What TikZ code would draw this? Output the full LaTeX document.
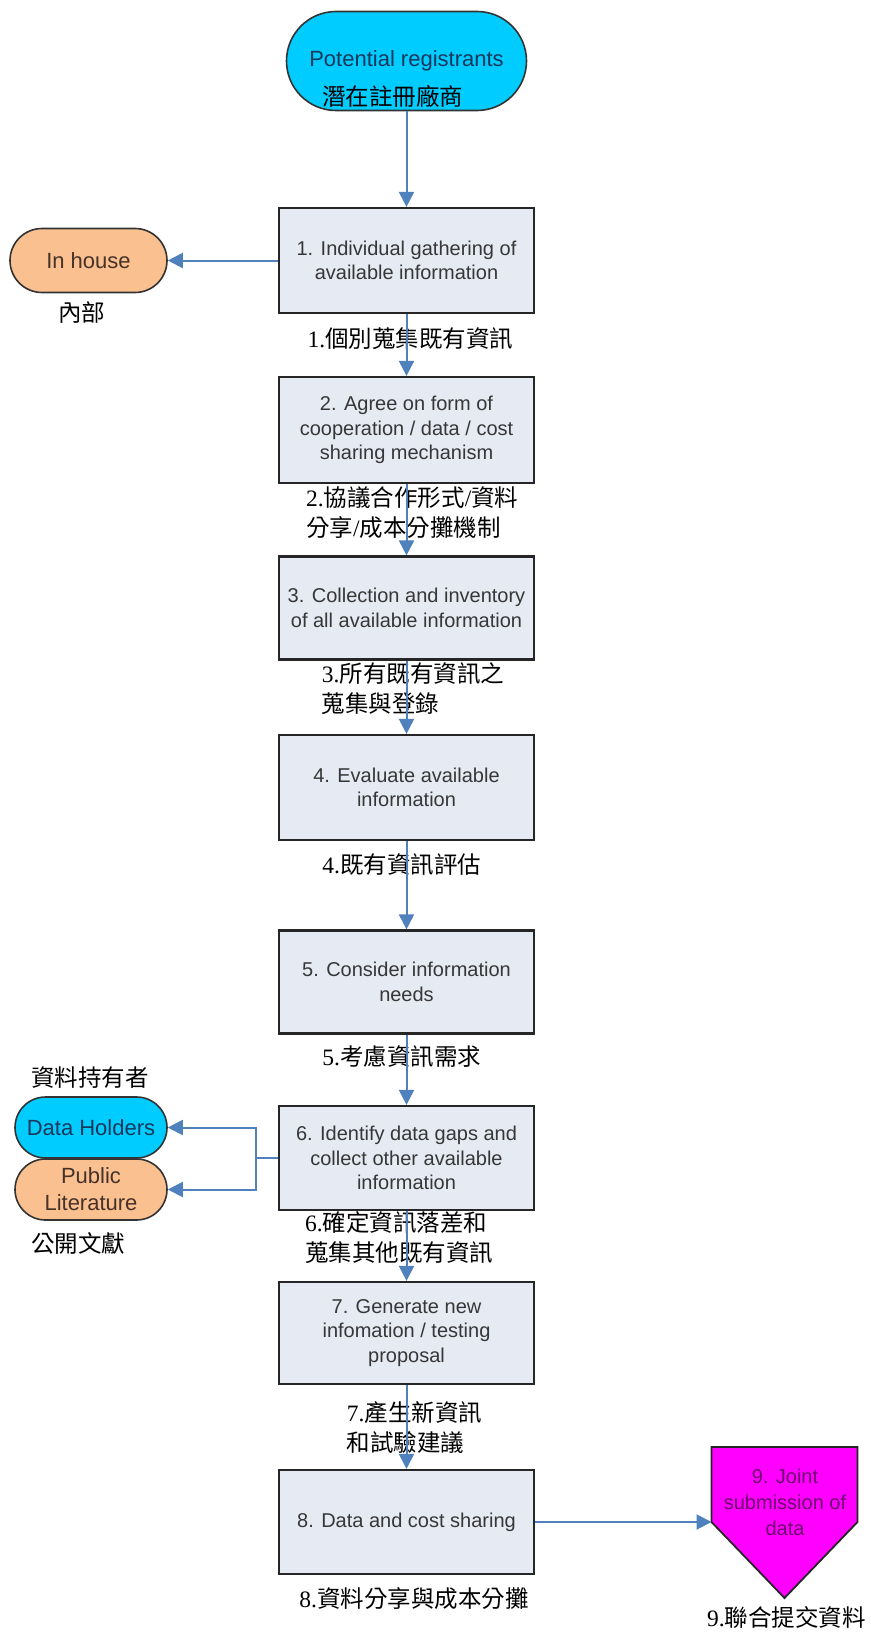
\documentclass[tikz,border=0pt]{standalone}
\usepackage{fontspec}
\setmainfont{Liberation Serif}
\setsansfont{Liberation Sans}
\newfontfamily\cjk{Noto Sans CJK TC}
\usetikzlibrary{arrows.meta}
\definecolor{cyanfill}{RGB}{0,204,255}
\definecolor{orangefill}{RGB}{250,192,144}
\definecolor{boxfill}{RGB}{230,234,242}
\definecolor{arrowblue}{RGB}{79,129,189}
\definecolor{magentafill}{RGB}{255,0,255}
\definecolor{boxtext}{RGB}{55,55,55}
\definecolor{cyantext}{RGB}{25,55,90}
\definecolor{orangetext}{RGB}{70,50,40}
\definecolor{magtext}{RGB}{110,0,110}
\begin{document}
\begin{tikzpicture}[x=1pt,y=-1pt,
  stepbox/.style={draw=black!85, line width=2.2pt, fill=boxfill, minimum width=255pt,
    inner sep=0pt, align=center, font=\sffamily\fontsize{20}{24.5}\selectfont, text=boxtext},
  pill/.style={draw=black!80, line width=1.6pt, inner sep=0pt, align=center,
    font=\sffamily\fontsize{22}{27}\selectfont},
  zh/.style={inner sep=0pt, font=\fontsize{23.5}{30}\selectfont, text=black},
  flow/.style={draw=arrowblue, line width=2pt, -{Triangle[length=15pt,width=15pt]}}
]
\useasboundingbox (0,0) rectangle (870,1635);
\fill[white] (0,0) rectangle (870,1635);

% start pill
\node[pill, fill=cyanfill, text=cyantext, minimum width=240pt, minimum height=99pt,
  rounded corners=49.5pt] (pr) at (406.5,61) {Potential registrants};
\node[zh] (przh) at (392.5,96) {\cjk 潛在註冊廠商};

% step boxes
\node[stepbox, minimum height=105pt] (b1) at (406.5,260.5) {1. Individual gathering of\\available information};
\node[stepbox, minimum height=106pt] (b2) at (406.5,430) {2. Agree on form of\\cooperation / data / cost\\sharing mechanism};
\node[stepbox, minimum height=103pt] (b3) at (406.5,608) {3. Collection and inventory\\of all available information};
\node[stepbox, minimum height=105pt] (b4) at (406.5,787.5) {4. Evaluate available\\information};
\node[stepbox, minimum height=103pt] (b5) at (406.5,982) {5. Consider information\\needs};
\node[stepbox, minimum height=104pt] (b6) at (406.5,1158) {6. Identify data gaps and\\collect other available\\information};
\node[stepbox, minimum height=102pt] (b7) at (406.5,1333) {7. Generate new\\infomation / testing\\proposal};
\node[stepbox, minimum height=104pt] (b8) at (406.5,1522) {8. Data and cost sharing};

% side pills
\node[pill, fill=orangefill, text=orangetext, minimum width=157pt, minimum height=64pt,
  rounded corners=32pt] (ih) at (88.5,260.5) {In house};
\node[zh] (ihzh) at (81.5,313) {\cjk 內部};
\node[pill, fill=cyanfill, text=cyantext, minimum width=152pt, minimum height=61pt,
  rounded corners=30.5pt] (dh) at (91,1127.5) {Data Holders};
\node[pill, fill=orangefill, text=orangetext, minimum width=152pt, minimum height=61pt,
  rounded corners=30.5pt] (pl) at (91,1189.5) {Public\\Literature};
\node[zh] (dhzh) at (90,1078) {\cjk 資料持有者};
\node[zh] (plzh) at (78,1243) {\cjk 公開文獻};

% pentagon
\coordinate (p9a) at (711.5,1447);
\coordinate (p9b) at (857.5,1447);
\coordinate (p9c) at (857.5,1522);
\coordinate (p9d) at (784.5,1598);
\coordinate (p9e) at (711.5,1522);
\draw[fill=magentafill, draw=black!85, line width=1.8pt, line join=miter]
  (p9a) -- (p9b) -- (p9c) -- (p9d) -- (p9e) -- cycle;
\node[inner sep=0pt, align=center, font=\sffamily\fontsize{20}{25.8}\selectfont, text=magtext]
  (t9) at (785,1502.5) {9. Joint\\submission of\\data};

% chinese labels
\node[zh] (z1) at (410.5,339) {1.{\cjk 個別蒐集既有資訊}};
\node[zh, anchor=west, align=left] (z2) at (306,512.5) {2.{\cjk 協議合作形式}/{\cjk 資料}\\{\cjk 分享}/{\cjk 成本分攤機制}};
\node[zh, anchor=west, align=left] (z3) at (321.7,688.5) {3.{\cjk 所有既有資訊之}\\{\cjk 蒐集與登錄}};
\node[zh] (z4) at (401.7,865) {4.{\cjk 既有資訊評估}};
\node[zh] (z5) at (401.7,1056.7) {5.{\cjk 考慮資訊需求}};
\node[zh, anchor=west, align=left] (z6) at (305,1238) {6.{\cjk 確定資訊落差和}\\{\cjk 蒐集其他既有資訊}};
\node[zh, anchor=west, align=left] (z7) at (346.7,1428) {7.{\cjk 產生新資訊}\\{\cjk 和試驗建議}};
\node[zh] (z8) at (414,1599) {8.{\cjk 資料分享與成本分攤}};
\node[zh] (z9) at (786.5,1618) {9.{\cjk 聯合提交資料}};

% connectors
\draw[flow] (pr.south) -- (b1.north);
\draw[flow] (b1.south) -- (b2.north);
\draw[flow] (b2.south) -- (b3.north);
\draw[flow] (b3.south) -- (b4.north);
\draw[flow] (b4.south) -- (b5.north);
\draw[flow] (b5.south) -- (b6.north);
\draw[flow] (b6.south) -- (b7.north);
\draw[flow] (b7.south) -- (b8.north);
\draw[flow] (b1.west) -- (ih.east);
\coordinate (j) at (256,1158);
\draw[draw=arrowblue, line width=2pt] (b6.west) -- (j);
\draw[flow] (j) |- (dh.east);
\draw[flow] (j) |- (pl.east);
\draw[flow] (b8.east) -- (p9e);
\end{tikzpicture}
\end{document}
